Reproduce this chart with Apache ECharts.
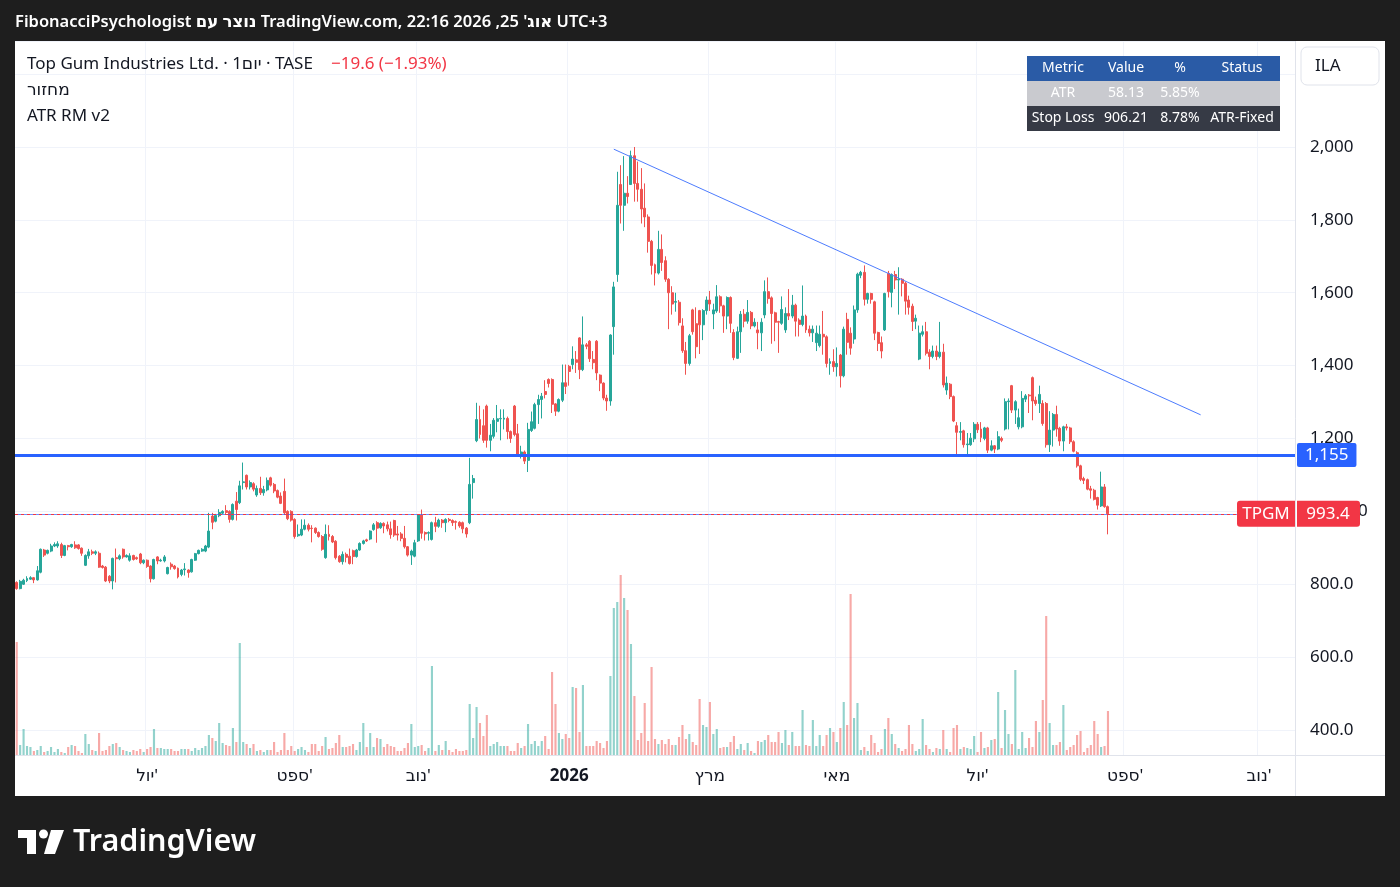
<!DOCTYPE html>
<html>
<head>
<meta charset="utf-8">
<script src="https://cdn.jsdelivr.net/npm/echarts@6/dist/echarts.min.js"></script>
<style>
html,body{margin:0;padding:0;background:#1e1e1e;}
#container{width:1400px;height:887px;}
</style>
</head>
<body>
<div id="container"></div>
<script>
// daily candles, TPGM (TASE)
var opens = [
 805,788,800,810,814,818,812,833,894,885, 891,905,905,909,879,906,903,908,908,899,
 852,878,889,885,885,850,847,822,809,873, 870,896,875,866,879,873,883,
 859,866,850,815,875,864,864,829,855,850, 844,827,840,839,834,866,884,891,891,902,
 987,973,988,995,1002,1000,978,1028,1024,1079, 1099,1067,1076,
 1045,1063,1051,1059,1092,1074,1057,1042,1055,1000, 1000,978,933,935,951,962,954,954,942,931,
 873,937,931,918,877,862,882,877,892,876, 894,912,922,924,
 950,969,955,967,963,952,975,938,938,926, 903,880,877,919,990,942,940,923,969,959,
 976,969,978,975,972,970,969,954,969,1079,
 1194,1252,1235,
 1289,1195,1206,1247,1254,1253,1255,1219,1289,1213, 1155,1163,1140,1222,1228,1293,1307,1329,1362,1362,
 1295,1275,1305,1353,1398,1403,1416,1476,1389,1457, 1467,1417,1467,
 1374,1352,1311,1303,1507,1650,1897,1840,1873,1897, 1976,1900,1884,1832,1808,1741,1677,1654,1719,1688,
 1637,1600,1574,1574,1509,1441,1406,1553,1515,1551, 1512,1551,1580,1542,
 1550,1589,1564,1536,1587,1491,1420,1493,1541,1522, 1546,1509,1498,1490,1539,1603,1586,1545,1521,1516,
 1498,1543,1536,1566,1525,1513,1536,1500,1490,1463, 1455,1486,1479,1406,1411,1397,1429,1372,1527,
 1489,1473,1553,1648,1656,1582,1598,1575,1491,1463, 1498,1653,1601,1650,1635,1637,1626,1580,1563,1522,
 1418,1486,1493,1437,1425,1440,1425,1437,1333,1349, 1315,1235,1217,1221,1183,1183,1199,1239,1226,
 1200,1229,1168,1180,1171,1200,1226,1301,1345,1278, 1232,1232,1308,1319,1367,1305,1296,1296,1296,1183,
 1223,1266,1228,1193,1232,1229,1191,1161,1125,1090, 1087,1062,1058,1038,1015,1067,1013
];
var closes = [
 788,808,811,816,818,812,837,896,880,893, 905,909,911,879,906,903,909,900,898,885,
 879,889,885,889,847,846,809,809,871,870, 878,875,879,878,868,870,859,
 866,849,815,868,864,866,875,846,848,843, 820,839,842,832,868,884,893,896,905,946,
 970,989,997,1000,997,978,1019,1005,1070,1081, 1067,1079,1061,
 1063,1051,1060,1085,1072,1056,1039,1022,996,980, 976,931,937,951,962,951,953,942,931,896,
 937,931,916,873,862,882,874,857,876,894, 912,919,919,946,
 963,954,967,960,952,936,935,935,926,903, 880,891,914,990,940,938,942,969,959,976,
 969,978,975,969,970,960,952,938,1074,1090,
 1252,1211,1195,
 1195,1209,1250,1254,1255,1256,1219,1200,1211,1155, 1163,1138,1225,1246,1293,1307,1316,1321,1351,1294,
 1275,1307,1353,1343,1384,1418,1409,1389,1457,1453, 1419,1408,1380,
 1352,1311,1303,1484,1616,1840,1840,1873,1864,1976, 1900,1884,1830,1808,1741,1675,1654,1719,1683,1637,
 1600,1569,1576,1518,1441,1406,1482,1493,1452,1512, 1551,1580,1569,1553,
 1589,1564,1536,1587,1516,1422,1493,1541,1522,1546, 1509,1519,1490,1519,1603,1584,1543,1519,1519,1554,
 1543,1536,1566,1522,1513,1536,1498,1490,1500,1489, 1486,1479,1406,1411,1397,1406,1372,1500,1464,
 1448,1553,1651,1656,1582,1598,1582,1489,1461,1440, 1598,1603,1650,1635,1637,1626,1577,1560,1521,1530,
 1489,1493,1434,1425,1440,1425,1437,1347,1352,1315, 1248,1217,1219,1183,1185,1201,1239,1224,1203,
 1229,1168,1180,1171,1205,1195,1301,1303,1278,1301, 1257,1310,1317,1317,1303,1296,1321,1241,1183,1223,
 1266,1226,1193,1232,1229,1191,1165,1125,1088,1085, 1061,1058,1033,1017,1067,1013,993.4
];
var lows = [
 785,786,798,806,812,803,810,830,875,882, 888,902,900,872,877,893,900,897,895,878,
 850,870,880,880,845,843,806,803,786,805, 866,870,873,862,865,867,855,
 855,845,805,813,855,862,860,827,840,840, 816,822,824,818,832,864,882,889,888,899,
 951,970,984,992,993,969,975,975,1020,1060, 1060,1060,1055,
 1040,1045,1043,1055,1068,1050,1036,1020,990,976, 972,925,930,932,948,945,915,938,928,892,
 870,920,913,868,859,854,860,854,855,873, 892,909,916,921,
 947,914,952,940,945,925,930,920,918,898, 876,853,874,916,925,920,920,920,943,955,
 955,943,970,960,950,955,940,928,965,1035,
 1190,1200,1188,
 1175,1165,1200,1217,1195,1225,1198,1188,1206,1150, 1145,1130,1108,1218,1225,1240,1255,1310,1340,1270,
 1262,1272,1300,1322,1345,1390,1380,1363,1385,1445, 1410,1390,1360,
 1330,1305,1276,1290,1430,1630,1790,1770,1845,1897, 1850,1850,1790,1780,1710,1650,1620,1650,1660,1630,
 1500,1540,1548,1510,1435,1375,1400,1485,1420,1432, 1470,1540,1550,1500,
 1545,1545,1490,1500,1490,1415,1418,1435,1505,1515, 1500,1505,1445,1440,1530,1570,1460,1467,1435,1512,
 1490,1525,1530,1480,1480,1508,1490,1480,1465,1440, 1450,1430,1395,1375,1383,1370,1340,1368,1430,
 1430,1460,1545,1640,1565,1570,1570,1470,1440,1420, 1495,1587,1560,1610,1540,1590,1540,1540,1495,1500,
 1415,1480,1428,1390,1420,1415,1420,1340,1320,1308, 1245,1154,1195,1175,1155,1180,1190,1215,1190,
 1195,1160,1165,1160,1168,1190,1222,1225,1270,1240, 1225,1228,1300,1270,1250,1290,1270,1235,1175,1163,
 1178,1205,1180,1165,1222,1185,1162,1120,1083,1075, 1058,1035,1030,1005,1012,1010,937
];
var highs = [
 808,812,815,822,822,820,850,898,897,895, 911,915,918,914,908,908,911,918,910,901,
 882,897,895,893,890,853,850,825,873,898, 882,898,882,885,881,876,886,
 868,868,852,870,877,870,880,848,860,853, 846,842,858,841,870,886,895,899,908,996,
 996,993,1006,1003,1017,1003,1022,1053,1084,1134, 1101,1085,1080,
 1071,1095,1070,1093,1095,1078,1060,1052,1090,1003, 1003,981,964,978,978,967,962,956,945,935,
 964,962,935,921,880,890,887,898,895,897, 915,922,925,948,
 968,973,970,970,972,972,977,960,943,960, 905,895,922,992,1005,945,945,972,985,980,
 979,981,982,978,975,973,972,957,1147,1100,
 1298,1290,1280,
 1293,1240,1256,1292,1280,1280,1260,1222,1292,1240, 1180,1167,1243,1274,1298,1320,1325,1360,1365,1365,
 1297,1310,1403,1403,1402,1453,1440,1478,1535,1462, 1470,1440,1470,
 1376,1354,1320,1486,1630,1932,1950,1975,1920,1990, 2000,1960,1942,1900,1815,1745,1680,1770,1760,1700,
 1640,1618,1600,1580,1530,1465,1487,1556,1560,1553, 1555,1590,1605,1570,
 1621,1593,1567,1590,1590,1500,1507,1550,1555,1580, 1550,1530,1520,1530,1634,1642,1590,1548,1523,1590,
 1560,1610,1594,1570,1530,1620,1540,1510,1510,1510, 1510,1550,1483,1420,1445,1450,1432,1507,1545,
 1505,1565,1655,1660,1675,1600,1600,1578,1493,1480, 1600,1660,1653,1660,1670,1640,1630,1592,1570,1540,
 1510,1510,1520,1445,1455,1455,1520,1460,1370,1352, 1318,1245,1245,1224,1215,1215,1245,1245,1245,
 1232,1232,1195,1182,1220,1205,1310,1310,1347,1305, 1282,1330,1322,1322,1370,1315,1345,1305,1300,1275,
 1270,1290,1232,1235,1240,1232,1195,1165,1128,1095, 1090,1070,1062,1040,1109,1075,1016
];
var volumes = [
 113,10,26,9,8,4,5,9,3,4, 8,3,6,3,2,8,10,9,4,2, 21,11,5,4,22,4,5,9,11,12, 8,5,4,3,5,4,6,
 3,6,8,26,7,7,6,6,6,4, 4,6,6,6,4,7,5,7,9,20, 17,14,32,12,10,9,27,13,112,13, 11,7,11,
 4,5,3,5,5,13,3,5,22,5, 9,4,6,8,5,3,11,11,4,9, 18,6,7,12,20,8,8,9,11,5, 13,32,8,22,
 8,17,16,8,11,9,8,4,4,7, 12,31,8,9,10,4,7,89,4,10, 5,14,5,3,6,4,4,5,51,17,
 48,32,19,
 40,9,11,13,9,9,9,4,4,12, 7,9,31,11,14,9,14,19,6,83, 51,22,16,21,17,68,67,23,70,9, 9,9,14,
 12,7,14,79,147,153,180,157,145,111, 59,15,22,52,14,88,16,11,15,11, 16,10,10,18,30,16,21,13,10,56, 30,28,53,21,
 26,7,8,8,13,19,6,11,5,12, 4,2,14,13,15,20,13,13,23,12, 25,10,23,9,9,45,10,9,35,9, 20,9,20,27,23,13,27,53,30,
 161,37,52,5,8,4,20,12,3,6, 26,37,21,11,7,4,6,30,11,4, 6,36,10,6,3,7,6,25,6,3, 27,30,6,8,7,6,19,3,23,
 7,8,15,16,63,7,45,21,11,85, 6,23,7,17,8,34,23,55,139,32, 10,10,13,50,5,8,10,20,24,3, 7,10,34,21,8,9,44
];

var slotCount = 373; // candles + empty days on the right
var tickIndex = [38, 81, 117, 161, 202, 239, 280, 323, 362];
var tickText = ["יול'", "ספט'", "נוב'", "2026", "מרץ", "מאי", "יול'", "ספט'", "נוב'"];
var supportLevel = 1155;
var lastClose = 993.4;
var trendLine = [[174, 1994], [345, 1265]];
var tableRows = [
  ["Metric", "Value", "%", "Status"],
  ["ATR", "58.13", "5.85%", ""],
  ["Stop Loss", "906.21", "8.78%", "ATR-Fixed"]
];

var UP = '#26a69a', DOWN = '#ef5350';
var FONT = "'Noto Sans', 'DejaVu Sans', sans-serif";

var categories = [];
for (var i = 0; i < slotCount; i++) categories.push(String(i));

var candleData = opens.map(function (o, i) { return [o, closes[i], lows[i], highs[i]]; });
var volData = volumes.map(function (v, i) {
  return { value: v, itemStyle: { color: closes[i] >= opens[i] ? 'rgba(38,166,154,0.5)' : 'rgba(239,83,80,0.5)' } };
});

function priceLabel(v) {
  if (v >= 1000) {
    var s = Math.round(v).toLocaleString('en-US');
    return v === 1000 ? s + '.0' : s;
  }
  return v.toFixed(1);
}

// panel frame, header, table, logo
var graphics = [
  { id: 'bgTop', type: 'rect', z: 100, shape: { x: 0, y: 0, width: 1400, height: 41 }, style: { fill: '#1e1e1e' } },
  { id: 'bgBot', type: 'rect', z: 100, shape: { x: 0, y: 796, width: 1400, height: 91 }, style: { fill: '#1e1e1e' } },
  { id: 'bgL', type: 'rect', z: 100, shape: { x: 0, y: 0, width: 15, height: 887 }, style: { fill: '#1e1e1e' } },
  { id: 'bgR', type: 'rect', z: 100, shape: { x: 1385, y: 0, width: 15, height: 887 }, style: { fill: '#1e1e1e' } },
  { id: 'axisV', type: 'line', z: 50, shape: { x1: 1295.5, y1: 41, x2: 1295.5, y2: 796 }, style: { stroke: '#e0e3eb', lineWidth: 1 } },
  { id: 'axisH', type: 'line', z: 50, shape: { x1: 15, y1: 755.5, x2: 1385, y2: 755.5 }, style: { stroke: '#e0e3eb', lineWidth: 1 } },
  { id: 'hdr', type: 'text', z: 101, style: { text: "FibonacciPsychologist נוצר עם TradingView.com, אוג' 25, 2026 22:16 UTC+3", x: 15, y: 22, fill: '#ffffff', font: '600 16.5px ' + FONT, verticalAlign: 'middle', textVerticalAlign: 'middle' } },
  { id: 'lg1', type: 'text', z: 60, style: { text: 'Top Gum Industries Ltd. · 1יום · TASE', x: 27, y: 64, fill: '#131722', font: '17px ' + FONT, verticalAlign: 'middle', textVerticalAlign: 'middle' } },
  { id: 'lg1b', type: 'text', z: 60, style: { text: '−19.6 (−1.93%)', x: 331, y: 64, fill: '#f23645', font: '17px ' + FONT, verticalAlign: 'middle', textVerticalAlign: 'middle' } },
  { id: 'lg2', type: 'text', z: 60, style: { text: 'מחזור', x: 27, y: 90, fill: '#131722', font: '17px ' + FONT, verticalAlign: 'middle', textVerticalAlign: 'middle' } },
  { id: 'lg3', type: 'text', z: 60, style: { text: 'ATR RM v2', x: 27, y: 116, fill: '#131722', font: '17px ' + FONT, verticalAlign: 'middle', textVerticalAlign: 'middle' } },
  { id: 'ilaBox', type: 'rect', z: 60, shape: { x: 1301, y: 47, width: 78, height: 38, r: 6 }, style: { fill: '#ffffff', stroke: '#e0e3eb', lineWidth: 1 } },
  { id: 'ilaTxt', type: 'text', z: 61, style: { text: 'ILA', x: 1315, y: 66, fill: '#131722', font: '17px ' + FONT, verticalAlign: 'middle', textVerticalAlign: 'middle' } },
  { id: 'logoA', type: 'rect', z: 101, shape: { x: 18, y: 830, width: 18, height: 8 }, style: { fill: '#ffffff' } },
  { id: 'logoB', type: 'rect', z: 101, shape: { x: 27, y: 830, width: 9, height: 24 }, style: { fill: '#ffffff' } },
  { id: 'logoC', type: 'circle', z: 101, shape: { cx: 43.5, cy: 834, r: 4.5 }, style: { fill: '#ffffff' } },
  { id: 'logoD', type: 'polygon', z: 101, shape: { points: [[51, 830], [64, 830], [55, 854], [44, 854]] }, style: { fill: '#ffffff' } },
  { id: 'logoT', type: 'text', z: 101, style: { text: 'TradingView', x: 73, y: 842, fill: '#ffffff', font: '600 30.5px ' + FONT, verticalAlign: 'middle', textVerticalAlign: 'middle' } }
];

var colX = [1063, 1126, 1180, 1242];
var rowFill = ['#2a5ba6', '#c9cacf', '#363a45'];
tableRows.forEach(function (row, r) {
  graphics.push({ id: 'trow' + r, type: 'rect', z: 60, shape: { x: 1027, y: 56 + r * 25, width: 253, height: 25 }, style: { fill: rowFill[r] } });
  row.forEach(function (cell, c) {
    graphics.push({ id: 'tc' + r + '_' + c, type: 'text', z: 61, style: { text: cell, x: colX[c], y: 68.5 + r * 25, fill: '#ffffff', font: '14px ' + FONT, align: 'center', textAlign: 'center', verticalAlign: 'middle', textVerticalAlign: 'middle' } });
  });
});

var dom = document.getElementById('container');
var myChart = echarts.init(dom);
var option = {
  backgroundColor: '#ffffff',
  animation: false,
  grid: { left: 15, right: 105, top: 41, bottom: 132 },
  xAxis: {
    type: 'category',
    data: categories,
    boundaryGap: true,
    axisLine: { show: false },
    axisTick: { show: false },
    axisLabel: {
      interval: function (idx) { return tickIndex.indexOf(idx) >= 0; },
      formatter: function (val, idx) {
        var k = tickIndex.indexOf(Number(val));
        if (k < 0) return '';
        return tickText[k] === '2026' ? '{b|2026}' : tickText[k];
      },
      rich: { b: { fontWeight: 'bold', fontSize: 17, color: '#131722', fontFamily: FONT } },
      fontSize: 17, color: '#131722', fontFamily: FONT, margin: 13
    },
    splitLine: {
      show: true,
      interval: function (idx) { return tickIndex.indexOf(idx) >= 0; },
      lineStyle: { color: '#f0f3fa', width: 1 }
    }
  },
  yAxis: [{
    type: 'value',
    position: 'right',
    min: 331.4,
    max: 2290.9,
    splitNumber: 10,
    axisLine: { show: false },
    axisTick: { show: false },
    axisLabel: {
      showMinLabel: false, showMaxLabel: false,
      fontSize: 17, color: '#131722', fontFamily: FONT, margin: 15,
      formatter: priceLabel
    },
    splitLine: { lineStyle: { color: '#f0f3fa', width: 1 } }
  }, {
    type: 'value',
    position: 'left',
    min: 0,
    max: 714,
    show: false
  }],
  series: [{
    name: 'מחזור',
    type: 'bar',
    yAxisIndex: 1,
    data: volData,
    barWidth: '62%',
    z: 1
  }, {
    name: 'TPGM',
    type: 'candlestick',
    yAxisIndex: 0,
    data: candleData,
    barWidth: '72%',
    itemStyle: { color: UP, color0: DOWN, borderColor: UP, borderColor0: DOWN, borderWidth: 1 },
    z: 3,
    markLine: {
      silent: true,
      symbol: ['none', 'none'],
      animation: false,
      data: [
        [{ coord: [trendLine[0][0], trendLine[0][1]] }, { coord: [trendLine[1][0], trendLine[1][1]] }],
        {
          yAxis: supportLevel,
          lineStyle: { color: '#2962ff', width: 3, type: 'solid' },
          label: {
            show: true, position: 'end', distance: 2,
            formatter: '1,155', color: '#ffffff', fontSize: 17, fontFamily: FONT,
            backgroundColor: '#2962ff', padding: [4, 8, 3, 8], borderRadius: 2
          }
        },
        {
          yAxis: lastClose,
          lineStyle: { color: '#2962ff', width: 1, type: 'solid', opacity: 0.7 },
          label: { show: false }
        },
        {
          yAxis: lastClose,
          lineStyle: { color: '#f23645', width: 1, type: [3, 3] },
          label: { show: false }
        }
      ],
      lineStyle: { color: '#4d7cfe', width: 1, type: 'solid' },
      label: { show: false }
    }
  }],
  graphic: graphics
};
myChart.setOption(option);

// last price tag, placed through the price scale
var yLast = myChart.convertToPixel({ yAxisIndex: 0 }, lastClose);
myChart.setOption({
  graphic: [
    { id: 'tagName', type: 'rect', z: 70, shape: { x: 1237, y: yLast - 13, width: 58, height: 26, r: [3, 0, 0, 3] }, style: { fill: '#f23645' } },
    { id: 'tagNameTxt', type: 'text', z: 71, style: { text: 'TPGM', x: 1266, y: yLast, fill: '#ffffff', font: '17px ' + FONT, align: 'center', textAlign: 'center', verticalAlign: 'middle', textVerticalAlign: 'middle' } },
    { id: 'tagVal', type: 'rect', z: 70, shape: { x: 1297, y: yLast - 13, width: 63, height: 26, r: [0, 3, 3, 0] }, style: { fill: '#f23645' } },
    { id: 'tagValTxt', type: 'text', z: 71, style: { text: '993.4', x: 1328, y: yLast, fill: '#ffffff', font: '17px ' + FONT, align: 'center', textAlign: 'center', verticalAlign: 'middle', textVerticalAlign: 'middle' } }
  ]
});
</script>
</body>
</html>
